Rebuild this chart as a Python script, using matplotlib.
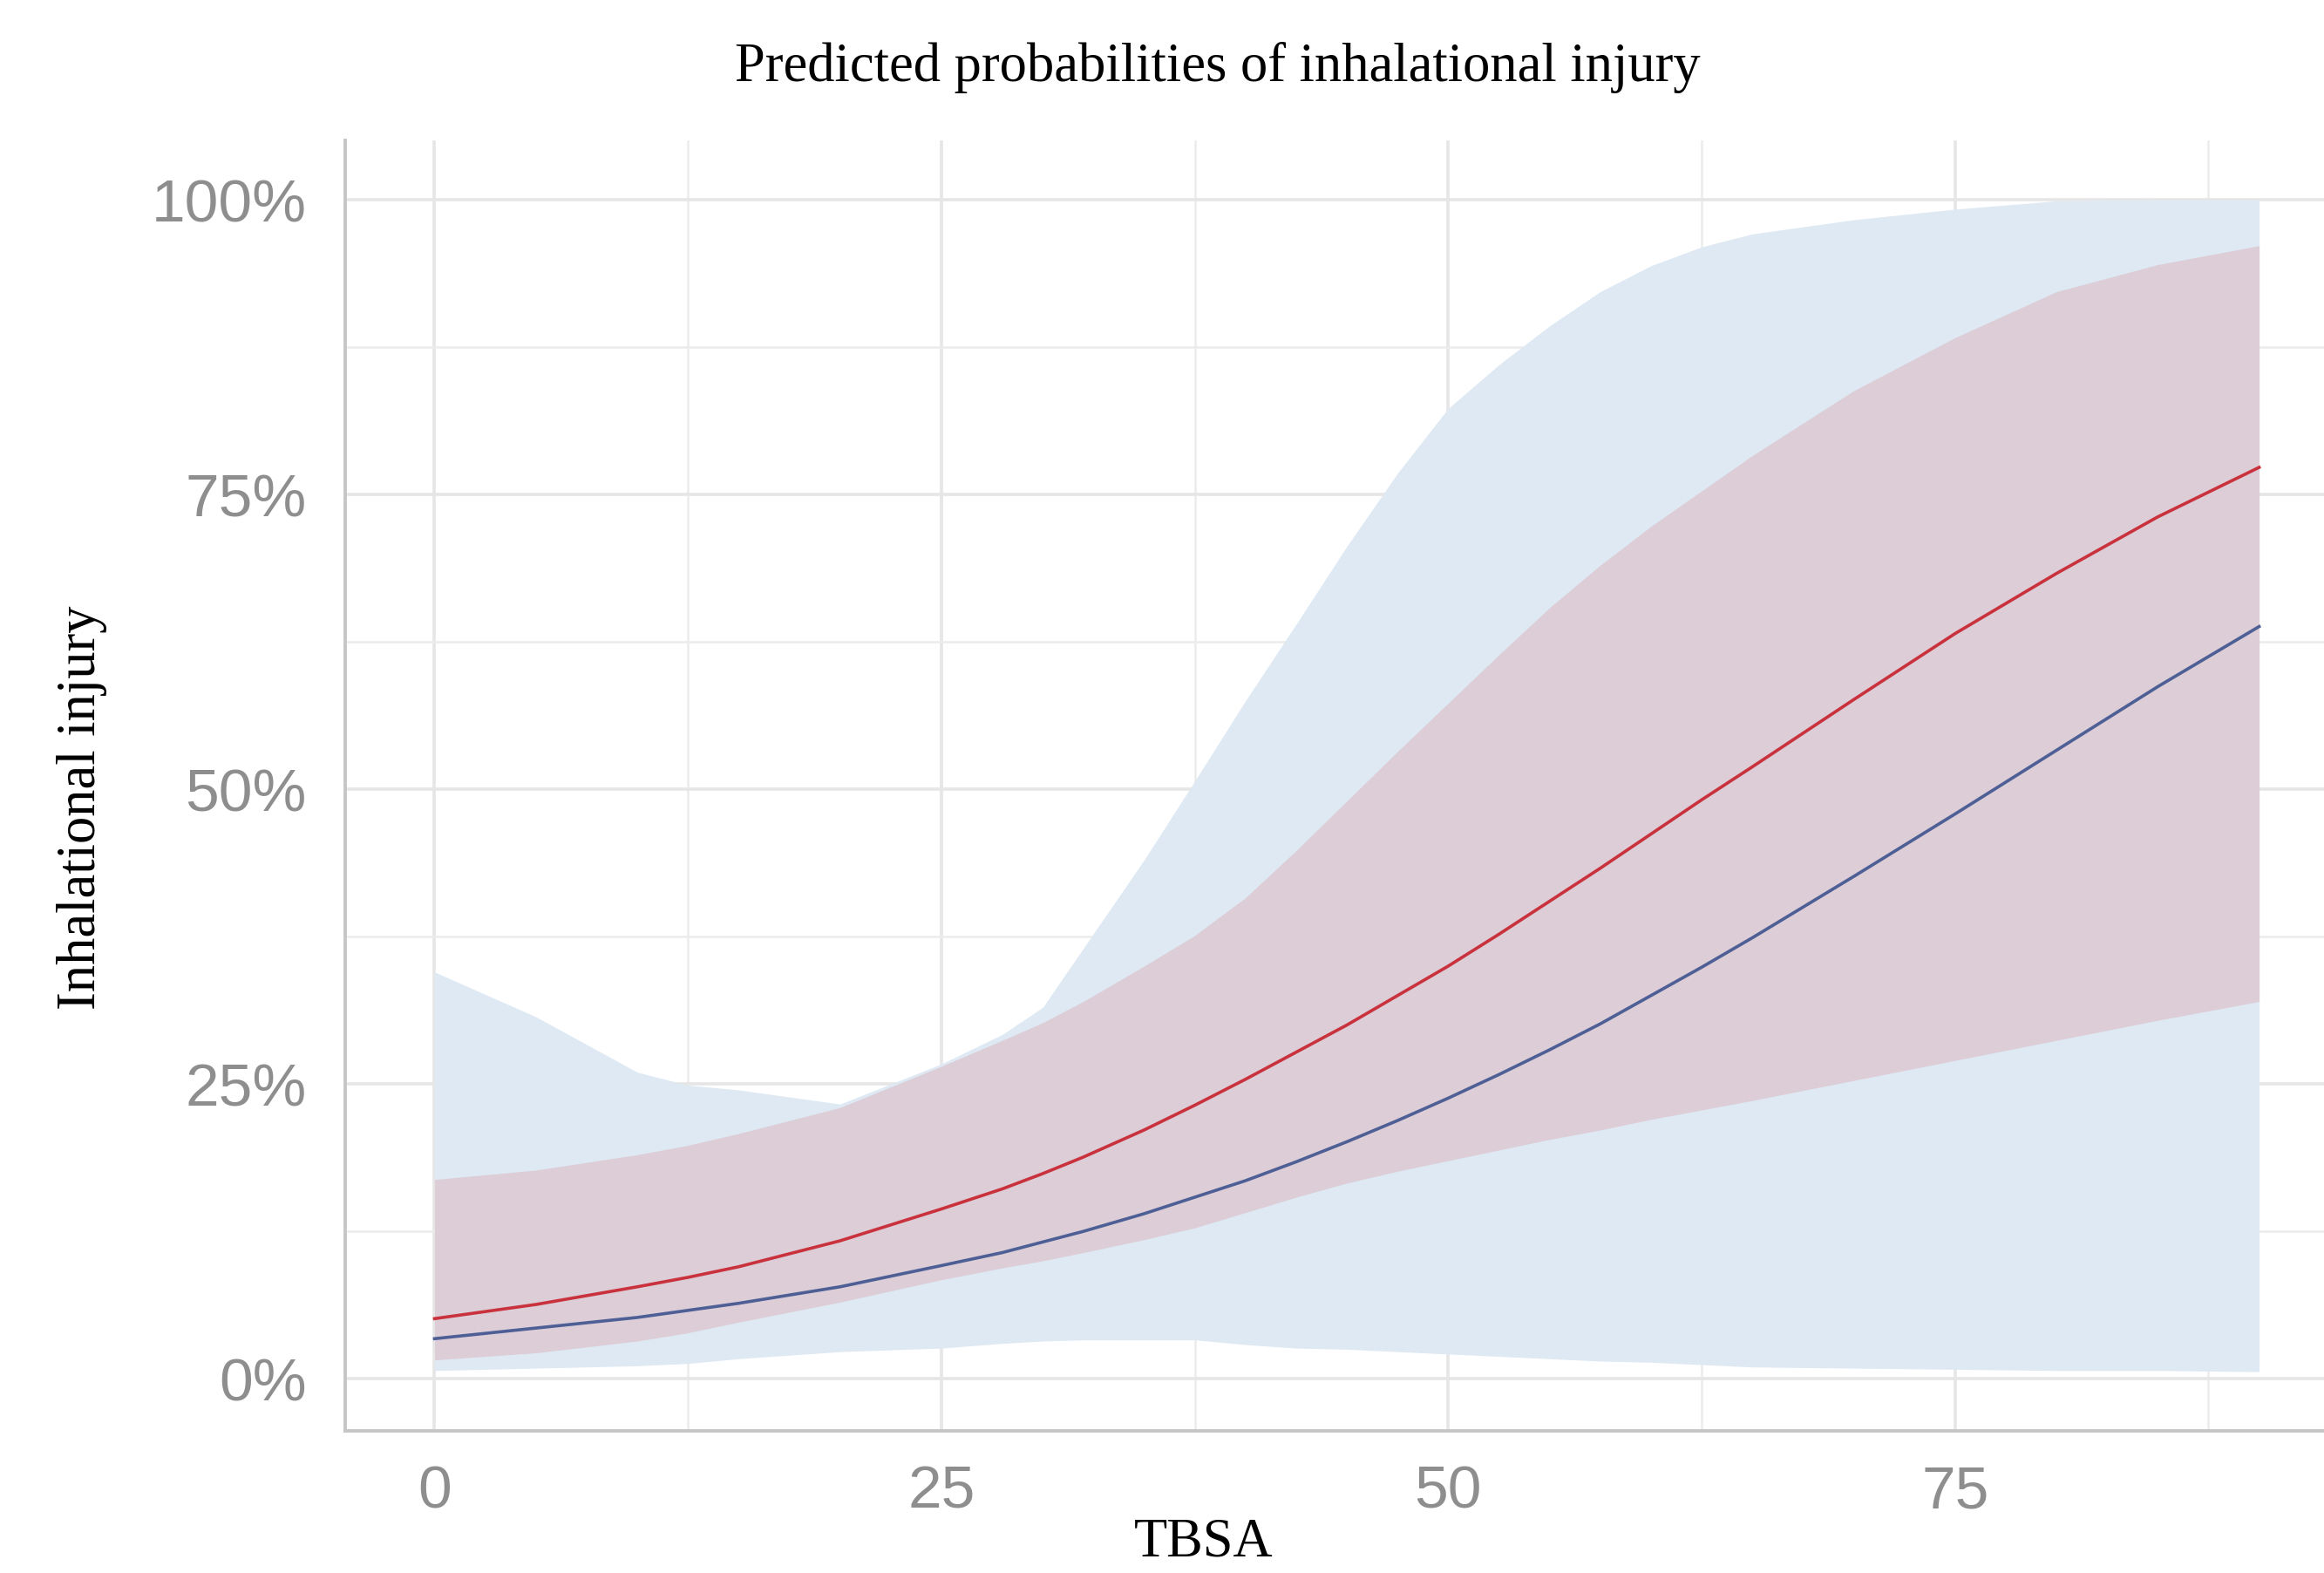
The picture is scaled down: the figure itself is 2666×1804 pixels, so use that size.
# Predicted probabilities of inhalational injury by TBSA
import matplotlib.pyplot as plt
from matplotlib.ticker import FuncFormatter, MultipleLocator

# x values (TBSA)
tbsa = [0, 5, 10, 12.5, 15, 20, 25, 28, 30, 32, 35, 37.5, 40, 42.5, 45, 47.5,
        50, 52.5, 55, 57.5, 60, 62.5, 65, 70, 75, 80, 85, 90]

# blue group: fitted line and interval (in %)
blue_fit = [3.4, 4.3, 5.2, 5.8, 6.4, 7.8, 9.6, 10.7, 11.6, 12.5, 14.0, 15.4,
            16.8, 18.4, 20.1, 21.9, 23.8, 25.8, 27.9, 30.1, 32.5, 34.9, 37.4,
            42.6, 47.9, 53.3, 58.7, 63.8]
blue_lo = [0.7, 0.9, 1.1, 1.3, 1.7, 2.3, 2.6, 3.0, 3.2, 3.3, 3.3, 3.3, 2.9,
           2.6, 2.5, 2.3, 2.1, 1.9, 1.7, 1.5, 1.4, 1.2, 1.0, 0.9, 0.8, 0.7,
           0.7, 0.6]
blue_hi = [34.5, 30.7, 26.0, 24.9, 24.5, 23.3, 26.7, 29.2, 31.5, 36.5, 44.0,
           50.7, 57.5, 64.0, 70.6, 76.8, 82.3, 86.0, 89.3, 92.2, 94.4, 96.0,
           97.1, 98.3, 99.2, 99.9, 100, 100]

# red group: fitted line and interval (in %)
red_fit = [5.1, 6.3, 7.8, 8.6, 9.5, 11.7, 14.4, 16.1, 17.4, 18.8, 21.1, 23.2,
           25.4, 27.7, 30.0, 32.5, 35.0, 37.7, 40.5, 43.3, 46.2, 49.1, 51.9,
           57.6, 63.2, 68.3, 73.1, 77.3]
red_lo = [1.6, 2.2, 3.2, 3.9, 4.8, 6.5, 8.4, 9.4, 10.0, 10.7, 11.8, 12.8,
          14.1, 15.4, 16.6, 17.6, 18.5, 19.4, 20.3, 21.1, 22.0, 22.8, 23.6,
          25.3, 27.0, 28.7, 30.4, 32.0]
red_hi = [16.9, 17.7, 19.0, 19.8, 20.8, 23.0, 26.5, 28.7, 30.2, 32.0, 35.0,
          37.6, 40.8, 44.8, 49.0, 53.2, 57.3, 61.4, 65.4, 69.0, 72.3, 75.3,
          78.3, 83.8, 88.3, 92.2, 94.5, 96.1]

# percent -> fraction
def frac(vals):
    return [v / 100 for v in vals]

fig = plt.figure(figsize=(13.33, 9.02), dpi=200)
ax = fig.add_axes([0.1486, 0.0905, 0.8514, 0.82])

# ribbons and lines
ax.fill_between(tbsa, frac(blue_lo), frac(blue_hi), color="#dee9f3", lw=0, zorder=2)
ax.fill_between(tbsa, frac(red_lo), frac(red_hi), color="#dccdd7", lw=0, zorder=3)
ax.plot(tbsa, frac(blue_fit), color="#4d5f95", lw=1.3, zorder=4)
ax.plot(tbsa, frac(red_fit), color="#c9323d", lw=1.3, zorder=5)

# axes limits and ticks
ax.set_xlim(-4.4, 93.2)
ax.set_ylim(-0.044, 1.05)
ax.xaxis.set_major_locator(MultipleLocator(25))
ax.xaxis.set_minor_locator(MultipleLocator(12.5))
ax.yaxis.set_major_locator(MultipleLocator(0.25))
ax.yaxis.set_minor_locator(MultipleLocator(0.125))
ax.yaxis.set_major_formatter(FuncFormatter(lambda v, p: f"{v * 100:.0f}%"))

# grid (ggplot minimal look)
ax.set_axisbelow(True)
ax.grid(which="major", color="#e6e6e6", lw=1.3, zorder=0)
ax.grid(which="minor", color="#ececec", lw=0.9, zorder=0)
ax.tick_params(which="both", length=0)
ax.tick_params(axis="y", labelsize=25, labelcolor="#8e8e8e", pad=16)
ax.tick_params(axis="x", labelsize=25, labelcolor="#8e8e8e", pad=14)
for lab in ax.get_xticklabels() + ax.get_yticklabels():
    lab.set_family("Liberation Sans")

for side in ["top", "right"]:
    ax.spines[side].set_visible(False)
for side in ["left", "bottom"]:
    ax.spines[side].set_color("#c6c6c6")
    ax.spines[side].set_linewidth(1.4)

# titles in serif
fig.text(0.524, 0.9485, "Predicted probabilities of inhalational injury",
         family="Liberation Serif", fontsize=22.5, ha="center", va="baseline")
fig.text(0.0351, 0.4863, "Inhalational injury", family="Liberation Serif",
         fontsize=22.5, rotation=90, ha="center", va="center")
fig.text(0.518, 0.003, "TBSA", family="Liberation Serif", fontsize=22.5,
         ha="center", va="bottom")

fig.savefig("out.png", dpi=200)
